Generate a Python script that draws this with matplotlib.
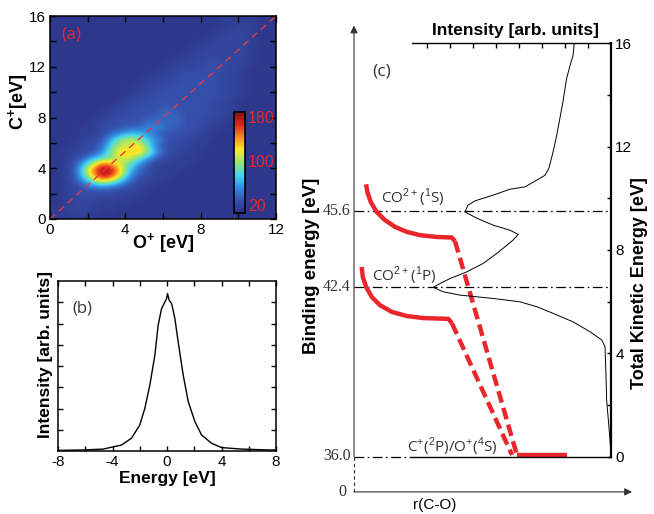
import numpy as np
import matplotlib
matplotlib.use('Agg')
import matplotlib.pyplot as plt
from matplotlib.colors import LinearSegmentedColormap

# ---------------- data ----------------
# (a) 2D energy map, 0.5 eV cells, rows from C+ = 16 eV (top) down to 0 eV
# level code -> counts (read against the colour bar)
levelValues = {'0': 9, '1': 14, '2': 20, '3': 27, '4': 36, '5': 50, '6': 65,
               '7': 80, '8': 95, '9': 110, 'a': 130, 'b': 150, 'c': 170, 'd': 185}
heatRows = [
    "000000000000000000111100",
    "000000000000000000112110",
    "000000000000000001122100",
    "000000000000000011222100",
    "000000000000000112222100",
    "000000000000001122222100",
    "000000000000011222222100",
    "000000000000112223222100",
    "000000000001122233221000",
    "000000000011223333221000",
    "000000000112233333221000",
    "000000001122333333221000",
    "000000001223333333221000",
    "000000012233333332210000",
    "000000122333433332210000",
    "000001223334443332210000",
    "000012233344443322100000",
    "000112334455443321100000",
    "000112456654333211000000",
    "001123689865332110000000",
    "001234799a74322110000000",
    "0112358aaa85321100000000",
    "012467899753211100000000",
    "01369cb97531111000000000",
    "0137bdda6431110000000000",
    "01369cb85321100000000000",
    "012467653211000000000000",
    "012333322110000000000000",
    "012222211100000000000000",
    "012221111000000000000000",
    "112211100000000000000000",
    "111110000000000000000000",
]
cbarTicks = [20, 100, 180]

# (b) kinetic energy release distribution
energyB = [-8.0, -6.04, -4.69, -3.34, -2.61, -2.0, -1.63, -1.26, -0.89, -0.65, -0.40,
           -0.21, -0.03, 0.04, 0.16, 0.34, 0.58, 0.82, 1.19, 1.56, 2.05, 2.54, 3.28,
           4.01, 5.49, 7.44, 8.0]
intensityB = [0.03, 0.05, 0.09, 0.28, 0.60, 1.22, 2.0, 3.10, 4.51, 5.92, 6.70,
              6.94, 7.17, 7.41, 7.09, 6.94, 6.23, 5.13, 3.57, 2.32, 1.38, 0.75, 0.36,
              0.16, 0.09, 0.05, 0.05]

# (c) total kinetic energy spectrum (intensity grows to the left)
keC = [15.98, 15.53, 15.14, 14.64, 13.73, 12.44, 11.79, 11.16, 10.89, 10.70, 10.44,
       10.35, 10.12, 9.90, 9.73, 9.47, 9.23, 8.96, 8.76, 8.60, 8.38, 8.12, 7.86, 7.47,
       7.15, 6.89, 6.70, 6.55, 6.38, 6.25, 6.12, 5.99, 5.80, 5.54, 5.21, 4.83, 4.51,
       4.25, 3.22, 2.19, 1.15, 0.12, 0.0]
intensityC = [1.60, 1.65, 1.78, 1.93, 2.09, 2.36, 2.52, 2.70, 2.87, 3.23, 3.74,
              4.39, 5.13, 5.91, 6.22, 6.35, 5.84, 5.13, 4.39, 4.03, 4.26, 4.61, 4.97,
              5.57, 6.27, 7.00, 7.43, 7.73, 7.30, 6.57, 5.13, 3.96, 3.23, 2.51, 1.64,
              0.91, 0.40, 0.26, 0.22, 0.19, 0.09, 0.0, 0.0]

# (c) schematic potential curves, (r, energy above the 36.0 eV limit)
curve1S_r = [0.47, 0.52, 0.65, 0.88, 1.21, 1.60, 2.05, 2.57, 3.22, 3.80, 3.93]
curve1S_e = [10.54, 10.24, 9.86, 9.47, 9.15, 8.89, 8.70, 8.57, 8.50, 8.48, 8.34]
curve1P_r = [0.30, 0.34, 0.47, 0.69, 1.01, 1.47, 2.05, 2.70, 3.67, 3.81]
curve1P_e = [7.34, 6.96, 6.57, 6.18, 5.86, 5.60, 5.44, 5.36, 5.33, 5.16]
dash1S_r = [3.93, 6.34]
dash1S_e = [8.34, 0.06]
dash1P_r = [3.81, 6.15]
dash1P_e = [5.16, 0.06]
limit_r = [6.33, 8.28]
limit_e = [0.06, 0.06]

bindingLabels = ['45.6', '42.4', '36.0']
bindingKE = [9.5, 6.55, 0.0]
stateLabels = [r'CO$^{2+}$($^{1}$S)', r'CO$^{2+}$($^{1}$P)', r'C$^{+}$($^{2}$P)/O$^{+}$($^{4}$S)']

# ---------------- style ----------------
plt.rcParams['font.family'] = 'Liberation Sans'
plt.rcParams['mathtext.fontset'] = 'custom'
plt.rcParams['mathtext.rm'] = 'Liberation Sans'
plt.rcParams['mathtext.bf'] = 'Liberation Sans:bold'
plt.rcParams['lines.scale_dashes'] = False
plt.rcParams['axes.unicode_minus'] = False

W, H = 654, 514
def fx(x):
    return x / W
def fy(y):
    return 1 - y / H
def box(x0, y0, x1, y1):
    # pixel box (top-left, bottom-right) -> figure fraction rect
    return [fx(x0), fy(y1), (x1 - x0) / W, (y1 - y0) / H]

red = '#e8262c'
gray = '#333333'

fig = plt.figure(figsize=(6.54, 5.14), dpi=100)

# ---------------- (a) ----------------
cmap = LinearSegmentedColormap.from_list('washedJet', [
    (0.0, (0.15, 0.17, 0.42)), (0.02, (0.18, 0.22, 0.55)), (0.125, (0.21, 0.32, 0.68)),
    (0.25, (0.20, 0.55, 0.88)), (0.375, (0.28, 0.84, 0.93)), (0.5, (0.58, 0.90, 0.45)),
    (0.625, (0.98, 0.92, 0.15)), (0.75, (0.97, 0.55, 0.12)), (0.875, (0.88, 0.14, 0.12)),
    (1.0, (0.55, 0.05, 0.05))])
grid = np.array([[levelValues[c] for c in row] for row in heatRows], dtype=float)

axA = fig.add_axes(box(50, 16, 276, 219))
im = axA.imshow(grid, extent=(0, 12, 0, 16), origin='upper', aspect='auto',
                cmap=cmap, vmin=5, vmax=190, interpolation='bicubic')
axA.plot([0, 12], [0, 16], color='#e23a3a', lw=1.0, dashes=(5, 3.5))
axA.set_xlim(0, 12)
axA.set_ylim(0, 16)
axA.set_xticks([0, 4, 8, 12])
axA.set_xticks([2, 6, 10], minor=True)
axA.set_yticks([0, 4, 8, 12, 16])
axA.set_yticks([2, 6, 10, 14], minor=True)
axA.tick_params(which='both', direction='in', top=True, right=True, length=4,
                width=1, labelsize=11, pad=3)
for s in axA.spines.values():
    s.set_linewidth(1.1)
axA.text(0.095, 0.91, '(a)', transform=axA.transAxes, color=red, fontsize=12.5,
         family='Open Sans', ha='center', va='center')
fig.text(fx(163), fy(243), r'O$^{\mathbf{+}}$ [eV]', weight='bold', fontsize=13,
         ha='center', va='center')
fig.text(fx(18), fy(102), r'C$^{\mathbf{+}}$[eV]', weight='bold', fontsize=13,
         ha='center', va='center', rotation=90)

cax = fig.add_axes(box(234, 112, 245, 213))
cb = fig.colorbar(im, cax=cax, ticks=cbarTicks)
cb.outline.set_linewidth(1.2)
cax.tick_params(length=0, labelsize=11.5, labelcolor=red, pad=2)

# ---------------- (b) ----------------
axB = fig.add_axes(box(58, 281, 276, 451))
axB.plot(energyB, intensityB, color='k', lw=1.0)
axB.set_xlim(-8, 8)
axB.set_ylim(0, 8)
axB.set_xticks([-8, -4, 0, 4, 8])
axB.set_xticks([-6, -2, 2, 6], minor=True)
axB.set_yticks(range(1, 8))
axB.set_yticklabels([])
axB.tick_params(which='both', direction='in', top=True, right=True, length=3.5,
                width=1, labelsize=11, pad=3)
for s in axB.spines.values():
    s.set_linewidth(1.1)
axB.text(0.11, 0.84, '(b)', transform=axB.transAxes, color=gray, fontsize=12,
         family='Open Sans', ha='center', va='center')
fig.text(fx(167), fy(478), 'Energy [eV]', weight='bold', fontsize=12.5,
         ha='center', va='center')
fig.text(fx(46), fy(355), 'Intensity [arb. units]', weight='bold', fontsize=12.5,
         ha='center', va='center', rotation=90)

# ---------------- (c) ----------------
axC = fig.add_axes(box(354, 43.3, 611, 456.5))
axC.set_xlim(0, 10)
axC.set_ylim(0, 16)
axC.axis('off')

# level lines
for lab, ke in zip(bindingLabels, bindingKE):
    xEnd = 10 if ke > 0 else 2.26
    axC.plot([0, xEnd], [ke, ke], color='k', lw=0.9, dashes=(7, 2.5, 1.2, 2.5),
             clip_on=False)
    axC.text(-0.12, ke, lab, ha='right', va='center', fontsize=11.5,
             family='Liberation Serif', color=gray, clip_on=False)
axC.text(-0.28, -1.37, '0', ha='right', va='center', fontsize=11.5,
         family='Liberation Serif', color=gray, clip_on=False)

# axes arrows of the schematic
axC.annotate('', xy=(0, 16.69), xytext=(0, 0), annotation_clip=False,
             arrowprops=dict(arrowstyle='-|>', lw=0.8, color=gray, mutation_scale=11,
                             shrinkA=0, shrinkB=0))
axC.plot([0, 0], [0, -1.37], color=gray, lw=0.8, dashes=(2.5, 2), clip_on=False)
axC.annotate('', xy=(10.82, -1.37), xytext=(0, -1.37), annotation_clip=False,
             arrowprops=dict(arrowstyle='-|>', lw=0.8, color=gray, mutation_scale=11,
                             shrinkA=0, shrinkB=0))
axC.text(3.15, -1.88, 'r(C-O)', ha='center', va='center', fontsize=11, clip_on=False)

# potential curves
axC.plot(curve1S_r, curve1S_e, color=red, lw=3.2, solid_capstyle='butt', clip_on=False)
axC.plot(curve1P_r, curve1P_e, color=red, lw=3.2, solid_capstyle='butt', clip_on=False)
axC.plot(dash1S_r, dash1S_e, color=red, lw=3.2, dashes=(8.5, 4), clip_on=False)
axC.plot(dash1P_r, dash1P_e, color=red, lw=3.2, dashes=(8.5, 4), clip_on=False)
axC.plot(limit_r, limit_e, color=red, lw=3.2, solid_capstyle='butt', clip_on=False)

axC.text(1.07, 14.89, '(c)', ha='center', va='center', fontsize=12.5,
         family='Open Sans', color=gray)
axC.text(1.04, 10.0, stateLabels[0], ha='left', va='center', fontsize=11,
         family='Open Sans', color=gray)
axC.text(0.69, 6.98, stateLabels[1], ha='left', va='center', fontsize=11,
         family='Open Sans', color=gray)
axC.text(2.07, 0.38, stateLabels[2], ha='left', va='center', fontsize=11,
         family='Open Sans', color=gray)

# intensity spectrum on its own axes (zero on the right)
axI = fig.add_axes(box(412, 43.3, 611, 456.5))
axI.patch.set_alpha(0)
axI.plot(intensityC, keC, color='k', lw=0.7)
axI.set_xlim(199 / 23, 0)
axI.set_ylim(0, 16)
axI.spines['left'].set_visible(False)
axI.spines['top'].set_linewidth(1.0)
axI.spines['bottom'].set_linewidth(1.0)
axI.spines['right'].set_linewidth(1.6)
axI.xaxis.tick_top()
axI.set_xticks(range(1, 9))
axI.set_xticklabels([])
axI.yaxis.tick_right()
axI.set_yticks([0, 4, 8, 12, 16])
axI.set_yticks([2, 6, 10, 14], minor=True)
axI.tick_params(axis='x', direction='in', length=3.5, width=1, top=True, bottom=False)
axI.tick_params(axis='y', which='both', direction='in', length=3, width=1,
                labelsize=11, pad=3, left=False, right=True)

fig.text(fx(515), fy(30), 'Intensity [arb. units]', weight='bold', fontsize=12.5,
         ha='center', va='center')
fig.text(fx(640), fy(283), 'Total Kinetic Energy [eV]', weight='bold', fontsize=13,
         ha='center', va='center', rotation=90)
fig.text(fx(312), fy(266), 'Binding energy [eV]', weight='bold', fontsize=13.5,
         ha='center', va='center', rotation=90)

fig.savefig('out.png', dpi=100)
